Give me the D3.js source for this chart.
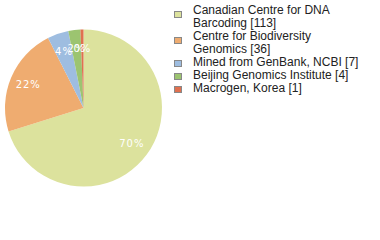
<!DOCTYPE html>
<html>
<head>
<meta charset="utf-8">
<script src="https://cdn.jsdelivr.net/npm/d3@7"></script>
<style>
  body { margin: 0; background: #fff; }
  svg { display: block; }
  .legend text { font-family: "Liberation Sans", Arial, sans-serif; font-size: 12px; fill: #222; }
  .pct { font-family: "DejaVu Sans", Verdana, sans-serif; font-size: 10px; fill: #fff; letter-spacing: 1px; }
</style>
</head>
<body>
<div id="chart"></div>
<script>
// data
var labels = [
    ["Canadian Centre for DNA", "Barcoding [113]"],
    ["Centre for Biodiversity", "Genomics [36]"],
    ["Mined from GenBank, NCBI [7]"],
    ["Beijing Genomics Institute [4]"],
    ["Macrogen, Korea [1]"]
];
var counts = [113, 36, 7, 4, 1];
var colors = ["#dce29d", "#efac70", "#9ebde0", "#9cc470", "#e0704f"];

var width = 380, height = 240;
var cx = 83.5, cy = 108, radius = 78.5;

var svg = d3.select("#chart").append("svg")
    .attr("width", width)
    .attr("height", height);

var total = d3.sum(counts);

var pie = d3.pie()
    .sort(null)
    .value(function (d) { return d; })
    (counts);

var arc = d3.arc()
    .innerRadius(0)
    .outerRadius(radius);

var labelArc = d3.arc()
    .innerRadius(60)
    .outerRadius(60);

var g = svg.append("g")
    .attr("transform", "translate(" + cx + "," + cy + ")");

g.selectAll("path")
    .data(pie)
    .enter().append("path")
    .attr("d", arc)
    .attr("fill", function (d, i) { return colors[i]; });

// percentages are truncated, so the smallest slice reads 0%
g.selectAll(".pct")
    .data(pie)
    .enter().append("text")
    .attr("class", "pct")
    .attr("transform", function (d) { return "translate(" + labelArc.centroid(d) + ")"; })
    .attr("text-anchor", "middle")
    .attr("dy", "0.35em")
    .text(function (d) { return Math.floor(d.value / total * 100) + "%"; });

// legend
var legend = svg.append("g").attr("class", "legend");
var lineH = 13, y = 14;
labels.forEach(function (lines, i) {
    var n = lines.length;
    legend.append("rect")
        .attr("x", 174.5)
        .attr("y", y - 5.5 + 3 * (n - 1))
        .attr("width", 7)
        .attr("height", 6)
        .attr("fill", colors[i])
        .attr("stroke", "#888")
        .attr("stroke-width", 1);
    var t = legend.append("text").attr("x", 193).attr("y", y);
    lines.forEach(function (line, j) {
        t.append("tspan")
            .attr("x", 193)
            .attr("y", y + j * lineH)
            .text(line);
    });
    y += n * lineH;
});
</script>
</body>
</html>
